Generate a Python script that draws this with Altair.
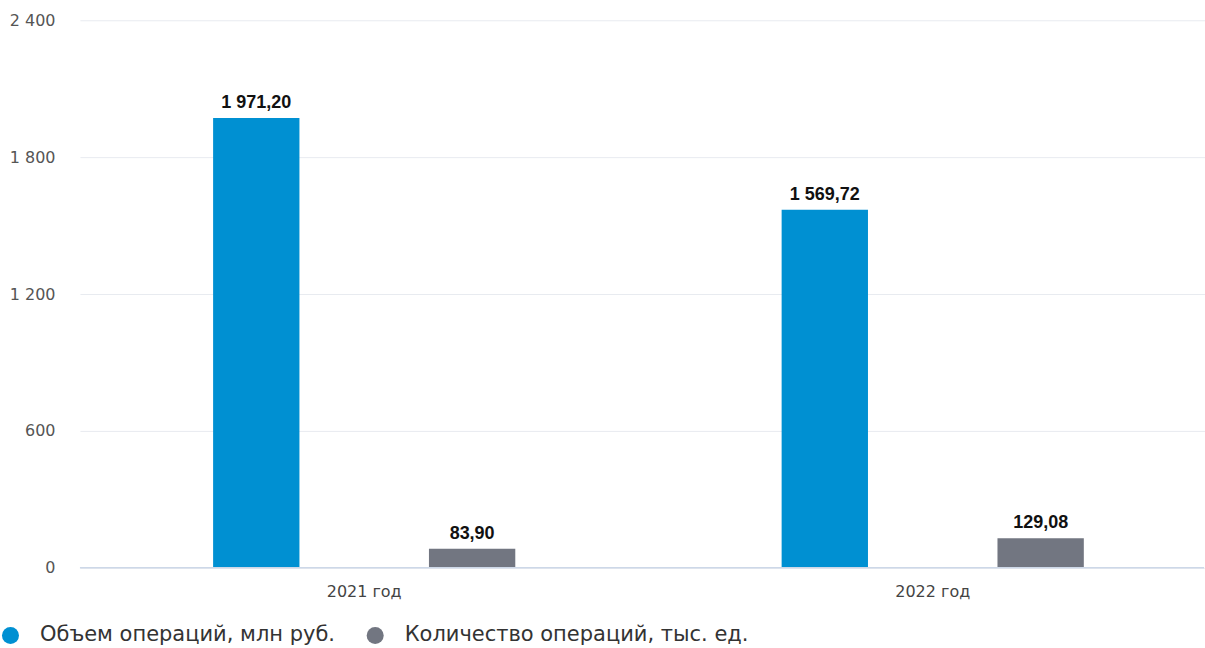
import altair as alt
import pandas as pd

years = ["2021 год", "2022 год"]
series = ["Объем операций, млн руб.", "Количество операций, тыс. ед."]
volume = [1971.20, 1569.72]
count = [83.90, 129.08]
colors = ["#0090d2", "#727681"]
y_ticks = [0, 600, 1200, 1800, 2400]

rows = []
for i, yr in enumerate(years):
    rows.append({"year": yr, "series": series[0], "value": volume[i]})
    rows.append({"year": yr, "series": series[1], "value": count[i]})
df = pd.DataFrame(rows)
df_years = pd.DataFrame({"year": years})

W = 1125
H = 548

x_enc = alt.X("year:N", sort=years, title=None,
              scale=alt.Scale(range=[0, 1138], paddingInner=0, paddingOuter=0),
              axis=None)
xoff = alt.XOffset("series:N", sort=series,
                   scale=alt.Scale(paddingInner=0.6, paddingOuter=0.617))
y_enc = alt.Y("value:Q", title=None,
              scale=alt.Scale(domain=[0, 2400], nice=False),
              axis=alt.Axis(values=y_ticks, grid=True, gridColor="#e8ebf0", domain=False,
                            ticks=False, labelPadding=25, labelFont="DejaVu Sans",
                            labelFontSize=16, labelColor="#555555",
                            labelExpr="replace(format(datum.value, ','), ',', ' ')"))

base = alt.Chart(df)

baseline = alt.Chart(pd.DataFrame({"v": [0]})).mark_rule(
    color="#cdd8e8", strokeWidth=1.5
).encode(y=alt.Y("v:Q"), x=alt.value(0), x2=alt.value(W))

bars = base.mark_bar().encode(
    x=x_enc, xOffset=xoff, y=y_enc,
    color=alt.Color("series:N", sort=series,
                    scale=alt.Scale(domain=series, range=colors),
                    legend=alt.Legend(title=None, orient="none", direction="horizontal",
                                      legendX=-80, legendY=605, symbolType="circle",
                                      symbolSize=290, symbolStrokeWidth=0, symbolOpacity=1,
                                      labelFont="DejaVu Sans", labelFontSize=21,
                                      labelColor="#333333", labelOffset=19, padding=0,
                                      columnPadding=29, labelLimit=500)),
)

labels = base.transform_calculate(
    lbl="replace(replace(format(datum.value, ',.2f'), ',', ' '), '.', ',')"
).mark_text(dy=-15, font="Liberation Sans", fontSize=18, fontWeight="bold", color="#111111").encode(
    x=alt.X("year:N", sort=years, axis=None), xOffset=alt.XOffset("series:N", sort=series),
    y="value:Q", text="lbl:N",
)

year_labels = alt.Chart(df_years).mark_text(
    font="DejaVu Sans", fontSize=16, color="#444444", baseline="middle"
).encode(
    x=alt.X("year:N", sort=years, axis=None),
    y=alt.value(H + 24),
    text="year:N",
)

chart = alt.layer(bars, baseline, labels, year_labels).properties(
    width=W, height=H, background="white",
    padding={"left": 0, "top": 12, "right": 0, "bottom": 0},
).configure_view(stroke=None)

chart.save("out.html", embed_options={"renderer": "svg", "actions": False})
